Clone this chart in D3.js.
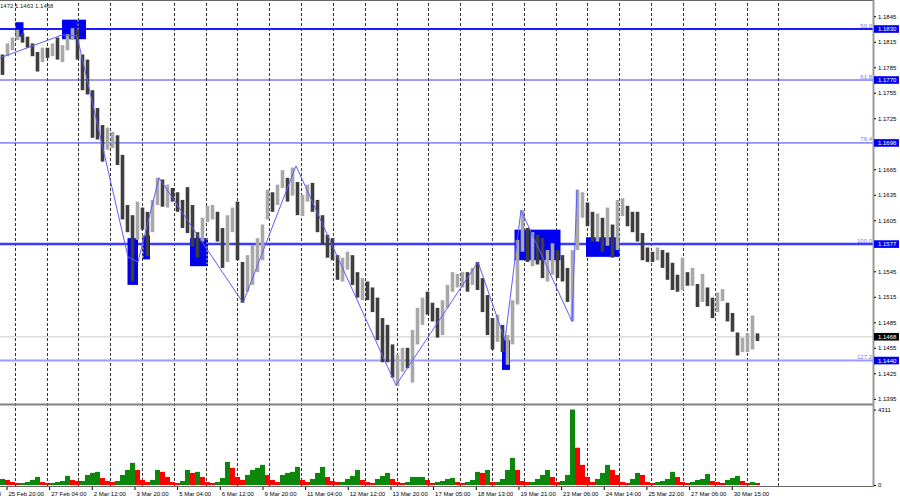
<!DOCTYPE html>
<html><head><meta charset="utf-8">
<script src="https://cdn.jsdelivr.net/npm/d3@7"></script>
<style>body{margin:0;background:#fff}svg{display:block;font-family:"Liberation Sans",Arial,sans-serif}</style>
</head><body><svg id="c" width="900" height="500"></svg>
<script>
// ---- data (price bins, oldest -> newest) ----
const barHigh = [
1.1800,1.1813,1.1820,1.1829,1.1825,1.1821,1.1813,1.1803,1.1808,1.1808,
1.1813,1.1820,1.1811,1.1824,1.1831,1.1829,1.1800,1.1794,1.1758,1.1737,
1.1717,1.1714,1.1709,1.1705,1.1682,1.1623,1.1611,1.1627,1.1620,1.1615,
1.1629,1.1655,1.1653,1.1647,1.1643,1.1638,1.1629,1.1644,1.1623,1.1591,
1.1608,1.1622,1.1623,1.1615,1.1596,1.1611,1.1620,1.1627,1.1556,1.1564,
1.1576,1.1584,1.1600,1.1641,1.1638,1.1647,1.1664,1.1655,1.1667,1.1650,
1.1635,1.1647,1.1649,1.1629,1.1611,1.1588,1.1584,1.1564,1.1561,1.1568,
1.1564,1.1544,1.1537,1.1533,1.1526,1.1514,1.1490,1.1482,1.1459,1.1447,
1.1455,1.1455,1.1476,1.1502,1.1514,1.1521,1.1508,1.1502,1.1511,1.1529,
1.1544,1.1542,1.1544,1.1544,1.1549,1.1556,1.1537,1.1517,1.1490,1.1494,
1.1482,1.1470,1.1511,1.1582,1.1617,1.1596,1.1591,1.1588,1.1584,1.1570,
1.1578,1.1570,1.1564,1.1549,1.1570,1.1641,1.1638,1.1626,1.1615,1.1613,
1.1608,1.1620,1.1600,1.1629,1.1631,1.1622,1.1615,1.1615,1.1590,1.1573,
1.1568,1.1573,1.1570,1.1567,1.1555,1.1541,1.1561,1.1544,1.1549,1.1530,
1.1542,1.1526,1.1514,1.1520,1.1524,1.1508,1.1496,1.1473,1.1467,1.1472,
1.1493,1.1472];
const barLow = [
1.1776,1.1798,1.1805,1.1817,1.1814,1.1808,1.1798,1.1780,1.1791,1.1796,
1.1798,1.1794,1.1791,1.1805,1.1817,1.1794,1.1758,1.1753,1.1702,1.1700,
1.1674,1.1688,1.1690,1.1670,1.1606,1.1591,1.1533,1.1582,1.1594,1.1563,
1.1591,1.1623,1.1621,1.1620,1.1627,1.1615,1.1596,1.1590,1.1574,1.1561,
1.1580,1.1603,1.1606,1.1580,1.1549,1.1556,1.1591,1.1558,1.1508,1.1521,
1.1529,1.1544,1.1558,1.1606,1.1615,1.1623,1.1643,1.1627,1.1634,1.1611,
1.1610,1.1627,1.1615,1.1591,1.1576,1.1561,1.1558,1.1535,1.1533,1.1547,
1.1529,1.1514,1.1511,1.1511,1.1497,1.1464,1.1438,1.1438,1.1420,1.1410,
1.1427,1.1431,1.1414,1.1459,1.1482,1.1494,1.1486,1.1467,1.1470,1.1502,
1.1521,1.1526,1.1526,1.1521,1.1529,1.1523,1.1497,1.1470,1.1453,1.1462,
1.1450,1.1435,1.1459,1.1506,1.1568,1.1556,1.1551,1.1553,1.1537,1.1533,
1.1541,1.1537,1.1533,1.1509,1.1486,1.1570,1.1608,1.1598,1.1580,1.1580,
1.1568,1.1575,1.1561,1.1570,1.1610,1.1598,1.1591,1.1580,1.1558,1.1556,
1.1556,1.1558,1.1549,1.1535,1.1523,1.1521,1.1523,1.1528,1.1528,1.1503,
1.1509,1.1504,1.1490,1.1497,1.1510,1.1486,1.1474,1.1446,1.1450,1.1450,
1.1453,1.1463];
const barClose = [
1.1791,1.1808,1.1815,1.1824,1.1820,1.1813,1.1803,1.1784,1.1803,1.1801,
1.1808,1.1798,1.1805,1.1820,1.1824,1.1800,1.1791,1.1761,1.1723,1.1711,
1.1700,1.1700,1.1702,1.1678,1.1617,1.1600,1.1582,1.1615,1.1603,1.1600,
1.1623,1.1647,1.1635,1.1638,1.1635,1.1623,1.1608,1.1600,1.1582,1.1576,
1.1603,1.1615,1.1617,1.1588,1.1564,1.1603,1.1608,1.1564,1.1523,1.1547,
1.1558,1.1573,1.1591,1.1631,1.1629,1.1638,1.1655,1.1641,1.1662,1.1623,
1.1629,1.1641,1.1623,1.1600,1.1584,1.1576,1.1564,1.1547,1.1556,1.1561,
1.1537,1.1523,1.1526,1.1519,1.1506,1.1476,1.1470,1.1447,1.1429,1.1438,
1.1441,1.1438,1.1464,1.1490,1.1506,1.1502,1.1497,1.1482,1.1506,1.1523,
1.1535,1.1535,1.1537,1.1530,1.1541,1.1533,1.1511,1.1482,1.1464,1.1476,
1.1459,1.1459,1.1500,1.1570,1.1588,1.1570,1.1576,1.1564,1.1556,1.1556,
1.1561,1.1556,1.1541,1.1517,1.1556,1.1617,1.1623,1.1611,1.1591,1.1596,
1.1584,1.1591,1.1582,1.1617,1.1623,1.1608,1.1600,1.1587,1.1570,1.1564,
1.1561,1.1568,1.1556,1.1544,1.1535,1.1533,1.1537,1.1535,1.1541,1.1511,
1.1523,1.1514,1.1497,1.1511,1.1516,1.1494,1.1482,1.1455,1.1459,1.1462,
1.1476,1.1468];
const volume = [
345,290,170,115,115,170,290,460,170,115,
115,170,230,520,290,230,230,575,690,750,
400,230,170,230,575,860,1265,860,290,170,
290,860,750,460,170,115,230,860,690,750,
460,170,115,170,400,1320,980,460,290,575,
860,980,1150,575,290,170,575,690,750,1035,
290,170,345,690,1035,460,230,170,170,345,
520,860,290,170,115,345,520,690,345,170,
115,170,460,460,460,290,115,170,230,345,
400,170,115,170,290,750,690,860,170,170,
345,860,1550,860,230,170,170,345,575,860,
460,170,230,575,4311,2130,1150,460,170,345,
690,1150,860,575,170,115,345,690,575,170,
115,170,230,345,750,460,170,115,170,290,
345,630,230,170,115,290,400,520,230,115,
170,115];
// zigzag swing points (bin position, price)
const zigzagPos   = [0, 12.4, 15.4, 25.6, 27.6, 31.8, 48.6, 59.2, 79.2, 95.6, 101, 104.2, 114.4, 115.4];
const zigzagPrice = [1.1796,1.1823,1.1822,1.1562,1.1556,1.1655,1.1508,1.1669,1.1411,1.1556,1.1464,1.1617,1.1486,1.1641];
// rectangles (zones)
const boxStart = [3.1, 12.4, 25.5, 28.5, 38, 100.4, 102.9, 117.2];
const boxEnd   = [4.7, 17.2, 27.6, 30, 41.6, 102, 112.1, 123.9];
const boxHigh  = [1.1838,1.1841,1.1584,1.1587,1.1584,1.1464,1.1594,1.1585];
const boxLow   = [1.1821,1.1818,1.1529,1.1559,1.1551,1.1429,1.1558,1.1562];
const markBox  = [1, 3, 4];
const markPos  = [15.6, 28.6, 41.4];
// fibonacci levels
const fibLevels = [1.1830, 1.1770, 1.1696, 1.1577, 1.1440];
const fibNames  = ["50.0", "61.8", "76.4", "100.0", "127.2"];
const lastPrice = 1.1468;
const headerText = "1.1472 1.1463 1.1468";
// axis ticks (1.1695 and 1.1575 are hidden under the level labels)
const priceTicks = [1.1845,1.1815,1.1785,1.1755,1.1725,1.1665,1.1635,1.1605,1.1545,1.1515,1.1485,1.1455,1.1425,1.1395];
const volTicks = [0, 4311];
const timeLabels = ["24 Feb 12:00","25 Feb 20:00","27 Feb 04:00","2 Mar 12:00","3 Mar 20:00","5 Mar 04:00","6 Mar 12:00","9 Mar 20:00","11 Mar 04:00","12 Mar 12:00","13 Mar 20:00","17 Mar 05:00","18 Mar 13:00","19 Mar 21:00","23 Mar 06:00","24 Mar 14:00","25 Mar 22:00","27 Mar 06:00","30 Mar 15:00"];

// ---- layout ----
const axisX = 873, mainTop = 3, mainBot = 404, volTop = 406, volBot = 486;
const svg = d3.select("#c");
svg.append("rect").attr("width",900).attr("height",500).attr("fill","#fff");
const x = d3.scaleLinear().domain([0, barClose.length]).range([0, 760]);
const y = d3.scaleLinear().domain([1.13889, 1.18606]).range([mainBot, mainTop]);
const yv = d3.scaleLinear().domain([0, 4311]).range([485, 409.5]);

const defs = svg.append("defs");
defs.append("clipPath").attr("id","cm").append("rect").attr("x",0).attr("y",mainTop).attr("width",axisX).attr("height",mainBot-mainTop);
defs.append("clipPath").attr("id","cv").append("rect").attr("x",0).attr("y",volTop).attr("width",axisX).attr("height",volBot-volTop);

// grid (every 24 hours)
const binsPerDay = 6.364, gridOffset = 2.94;
const gridPos = d3.range(25).map(k => gridOffset + binsPerDay*k);
svg.append("g").selectAll("line").data(gridPos).join("line")
  .attr("x1",d=>Math.round(x(d))+0.5).attr("x2",d=>Math.round(x(d))+0.5).attr("y1",mainTop).attr("y2",volBot)
  .attr("stroke","#333").attr("stroke-width",1).attr("stroke-dasharray","3,2");

const main = svg.append("g").attr("clip-path","url(#cm)");
// level lines
const fibStyle = [{c:"#1a1aff",w:2},{c:"#3c3cf0",w:1},{c:"#3c3cff",w:1},{c:"#3b3bff",w:2.5},{c:"#9a9aff",w:2}];
main.append("line").attr("x1",0).attr("x2",axisX).attr("y1",y(lastPrice)).attr("y2",y(lastPrice)).attr("stroke","#dcdcdc").attr("stroke-width",1.5);
main.selectAll("line.fib").data(fibLevels).join("line").attr("class","fib")
  .attr("x1",0).attr("x2",axisX).attr("y1",d=>y(d)).attr("y2",d=>y(d))
  .attr("stroke",(d,i)=>fibStyle[i].c).attr("stroke-width",(d,i)=>fibStyle[i].w);
// boxes
main.selectAll("rect.box").data(boxStart).join("rect").attr("class","box")
  .attr("x",(d,i)=>x(d)).attr("width",(d,i)=>x(boxEnd[i])-x(d))
  .attr("y",(d,i)=>y(boxHigh[i])).attr("height",(d,i)=>y(boxLow[i])-y(boxHigh[i]))
  .attr("fill","#0000f0");
main.selectAll("line.mk").data(markPos).join("line").attr("class","mk")
  .attr("x1",d=>x(d)).attr("x2",d=>x(d))
  .attr("y1",(d,i)=>y(boxHigh[markBox[i]])).attr("y2",(d,i)=>y(boxLow[markBox[i]]))
  .attr("stroke","#ffd400").attr("stroke-width",1).attr("stroke-dasharray","2,2");
// bars
const bw = 3.6;
main.selectAll("rect.bar").data(barClose).join("rect").attr("class","bar")
  .attr("x",(d,i)=>x(i+0.5)-bw/2).attr("width",bw)
  .attr("y",(d,i)=>y(barHigh[i])).attr("height",(d,i)=>Math.max(1,y(barLow[i])-y(barHigh[i])))
  .attr("fill",(d,i)=> (i>0 && d>=barClose[i-1]) ? "#a8a8a8" : "#3e3e3e");
// zigzag
main.append("path").datum(zigzagPos)
  .attr("d", d3.line().x(d=>x(d)).y((d,i)=>y(zigzagPrice[i])))
  .attr("fill","none").attr("stroke","#5c5cff").attr("stroke-width",1);

// level names
svg.selectAll("text.fn").data(fibLevels).join("text").attr("class","fn")
  .attr("x",axisX-1).attr("y",d=>y(d)-1.5).attr("text-anchor","end")
  .attr("font-size",6).attr("fill","#7272ff").text((d,i)=>fibNames[i]);

// volume
const vol = svg.append("g").attr("clip-path","url(#cv)");
vol.selectAll("rect").data(volume).join("rect")
  .attr("x",(d,i)=>x(i)).attr("width",x(1)-x(0))
  .attr("y",d=>yv(d)).attr("height",d=>yv(0)-yv(d))
  .attr("fill",(d,i)=> (i===0 || d>=volume[i-1]) ? "#0b880b" : "#ff0000");

// frames
svg.append("line").attr("x1",0).attr("x2",axisX).attr("y1",0.5).attr("y2",0.5).attr("stroke","#666");
svg.append("line").attr("x1",0).attr("x2",axisX).attr("y1",404.5).attr("y2",404.5).attr("stroke","#808080").attr("stroke-width",2);
svg.append("line").attr("x1",0).attr("x2",axisX).attr("y1",volBot+0.5).attr("y2",volBot+0.5).attr("stroke","#666");
svg.append("line").attr("x1",axisX+0.5).attr("x2",axisX+0.5).attr("y1",0).attr("y2",volBot+1).attr("stroke","#9a9a9a").attr("stroke-width",2);

// price axis
const pa = svg.append("g").attr("transform",`translate(${axisX+1},0)`)
  .call(d3.axisRight(y).tickValues(priceTicks).tickFormat(d3.format(".4f")).tickSize(2).tickPadding(2));
pa.select(".domain").remove();
pa.selectAll("text").attr("font-size",6).attr("font-family","Liberation Sans, Arial, sans-serif").attr("fill","#000");
pa.selectAll("line").attr("stroke","#000");
// highlighted value labels
const hl = fibLevels.map(v=>({v, bg:"#0000f0", fg:"#fff"})).concat([{v:lastPrice,bg:"#000",fg:"#fff"}]);
const hg = svg.append("g").selectAll("g").data(hl).join("g").attr("transform",d=>`translate(${axisX+1},${y(d.v)})`);
hg.append("rect").attr("x",0).attr("y",-3.8).attr("width",25).attr("height",7.6).attr("fill",d=>d.bg);
hg.append("text").attr("x",4).attr("y",2.2).attr("font-size",6).attr("fill",d=>d.fg).text(d=>d3.format(".4f")(d.v));

// volume axis
const va = svg.append("g").attr("transform",`translate(${axisX+1},0)`)
  .call(d3.axisRight(yv).tickValues(volTicks).tickFormat(d3.format("d")).tickSize(2).tickPadding(2));
va.select(".domain").remove();
va.selectAll("text").attr("font-size",6).attr("font-family","Liberation Sans, Arial, sans-serif");

// time axis
const labelStep = 8.532, labelOffset = 1.3 - 8.532;
const labelPos = timeLabels.map((d,i)=>labelOffset + labelStep*i);
const ta = svg.append("g").attr("transform",`translate(0,${volBot+1})`)
  .call(d3.axisBottom(x).tickValues(labelPos).tickFormat((d,i)=>timeLabels[i]).tickSize(3).tickPadding(2));
ta.select(".domain").remove();
ta.selectAll("text").attr("text-anchor","start").attr("dx",1.5).attr("font-size",6).attr("font-family","Liberation Sans, Arial, sans-serif").attr("fill","#000");

// header
svg.append("text").attr("x",-5).attr("y",8).attr("font-size",6).attr("fill","#222").text(headerText);
</script></body></html>
